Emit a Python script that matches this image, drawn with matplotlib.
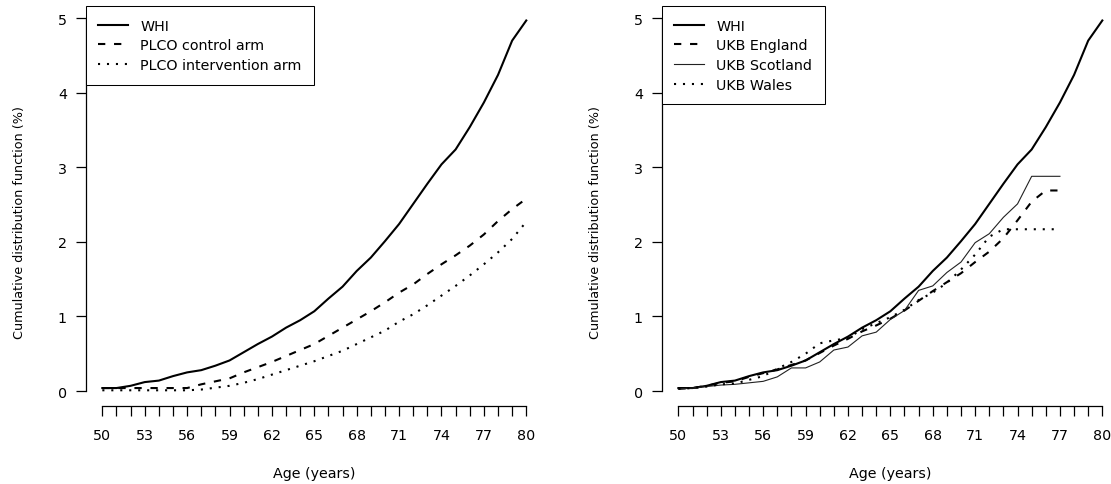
import matplotlib
matplotlib.use("Agg")
import matplotlib.pyplot as plt
import numpy as np

# ---------------- data ----------------
ages_full = list(range(50, 81))      # 50..80
ages_ukb = list(range(50, 78))       # 50..77

whi = [0.04, 0.04, 0.07, 0.12, 0.14, 0.20, 0.25, 0.28, 0.34, 0.41, 0.52,
       0.63, 0.73, 0.85, 0.95, 1.07, 1.24, 1.40, 1.61, 1.79, 2.01, 2.24,
       2.51, 2.78, 3.04, 3.24, 3.54, 3.87, 4.24, 4.70, 4.97]
plco_control = [0.04, 0.04, 0.04, 0.04, 0.04, 0.04, 0.04, 0.09, 0.13, 0.17,
                0.25, 0.32, 0.39, 0.47, 0.55, 0.63, 0.74, 0.85, 0.96, 1.07,
                1.19, 1.32, 1.43, 1.57, 1.70, 1.82, 1.95, 2.10, 2.28, 2.44, 2.58]
plco_interv = [0.01, 0.01, 0.01, 0.01, 0.01, 0.01, 0.01, 0.02, 0.045, 0.07,
               0.11, 0.16, 0.22, 0.28, 0.34, 0.40, 0.47, 0.54, 0.63, 0.72,
               0.81, 0.93, 1.03, 1.15, 1.28, 1.41, 1.55, 1.70, 1.86, 2.04, 2.27]
ukb_england = [0.03, 0.04, 0.07, 0.11, 0.13, 0.19, 0.24, 0.29, 0.35, 0.41,
               0.51, 0.61, 0.70, 0.80, 0.88, 0.97, 1.08, 1.21, 1.34, 1.46,
               1.58, 1.73, 1.87, 2.05, 2.29, 2.54, 2.69, 2.69]
ukb_scotland = [0.03, 0.04, 0.06, 0.08, 0.09, 0.11, 0.13, 0.19, 0.31, 0.31,
                0.39, 0.55, 0.59, 0.74, 0.79, 0.96, 1.08, 1.35, 1.41, 1.59,
                1.73, 1.99, 2.11, 2.33, 2.51, 2.88, 2.88, 2.88]
ukb_wales = [0.03, 0.04, 0.06, 0.09, 0.10, 0.15, 0.20, 0.30, 0.39, 0.50,
             0.64, 0.68, 0.71, 0.83, 0.91, 0.99, 1.09, 1.22, 1.32, 1.45,
             1.63, 1.83, 2.07, 2.17, 2.17, 2.17, 2.17, 2.17]

x_ticks = list(range(50, 81))
x_ticklabels = [str(v) if (v - 50) % 3 == 0 else "" for v in x_ticks]
y_ticks = [0, 1, 2, 3, 4, 5]

xlabel = "Age (years)"
ylabel = "Cumulative distribution function (%)"

# ---------------- style ----------------
plt.rcParams["font.family"] = ["DejaVu Sans"]
FS = 10.3
LW = 1.5
DASHED = (0, (3.5, 4.2))
DOTTED = (0, (1, 3.3))

fig = plt.figure(figsize=(11.11, 4.85), dpi=100)
ax1 = fig.add_axes([0.0771, 0.1614, 0.4116, 0.8235])
ax2 = fig.add_axes([0.5956, 0.1614, 0.4116, 0.8235])


def style_axis(ax):
    ax.set_xlim(48.82, 81.18)
    ax.set_ylim(-0.197, 5.16)
    for s in ["top", "right"]:
        ax.spines[s].set_visible(False)
    ax.spines["left"].set_bounds(0, 5)
    ax.spines["bottom"].set_bounds(50, 80)
    for s in ["left", "bottom"]:
        ax.spines[s].set_linewidth(0.9)
        ax.spines[s].set_color("black")
    ax.set_xticks(x_ticks)
    ax.set_xticklabels(x_ticklabels)
    ax.set_yticks(y_ticks)
    ax.set_yticklabels([str(v) for v in y_ticks])
    ax.tick_params(axis="x", which="major", direction="out", length=7.2,
                   width=0.9, pad=8.5, labelsize=FS, color="black")
    ax.tick_params(axis="y", which="major", direction="out", length=7.0,
                   width=0.9, pad=6.5, labelsize=FS, color="black")
    ax.set_xlabel(xlabel, fontsize=FS)
    ax.set_ylabel(ylabel, fontsize=9.2)
    ax.xaxis.set_label_coords(0.5, -0.15)
    ax.yaxis.set_label_coords(-0.131, 0.46)


style_axis(ax1)
style_axis(ax2)

# left panel
ax1.plot(ages_full, whi, color="black", lw=LW, label="WHI")
ax1.plot(ages_full, plco_control, color="black", lw=LW, linestyle=DASHED,
         dash_capstyle="butt", label="PLCO control arm")
ax1.plot(ages_full, plco_interv, color="black", lw=LW, linestyle=DOTTED,
         dash_capstyle="butt", label="PLCO intervention arm")

# right panel
ax2.plot(ages_full, whi, color="black", lw=LW, label="WHI")
ax2.plot(ages_ukb, ukb_england, color="black", lw=LW, linestyle=DASHED,
         dash_capstyle="butt", label="UKB England")
ax2.plot(ages_ukb, ukb_scotland, color="#222222", lw=0.8, label="UKB Scotland")
ax2.plot(ages_ukb, ukb_wales, color="black", lw=LW, linestyle=DOTTED,
         dash_capstyle="butt", label="UKB Wales")

for ax in (ax1, ax2):
    leg = ax.legend(loc="upper left", bbox_to_anchor=(0, 1), borderaxespad=0,
                    frameon=True, fancybox=False, framealpha=1,
                    edgecolor="black", fontsize=FS, handlelength=2.1,
                    handletextpad=0.85, borderpad=0.87, labelspacing=0.395)
    leg.get_frame().set_linewidth(0.75)

fig.savefig("out.png", dpi=100)
